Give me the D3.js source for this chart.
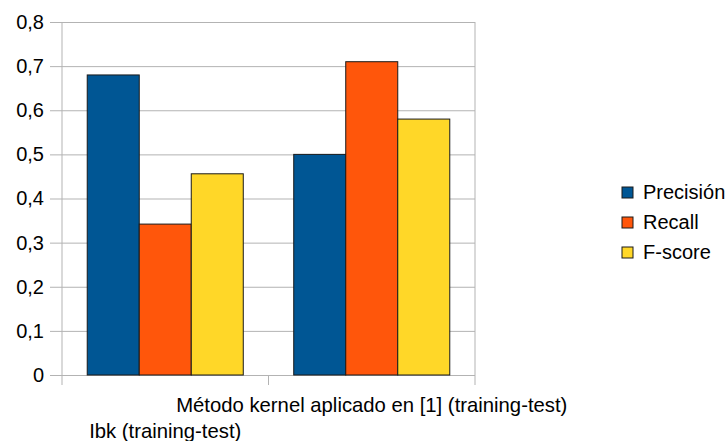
<!DOCTYPE html>
<html>
<head>
<meta charset="utf-8">
<script src="https://cdn.jsdelivr.net/npm/d3@7"></script>
<style>
  body { margin: 0; background: #fff; }
  svg text { font-family: "Liberation Sans", Arial, sans-serif; fill: #000; }
</style>
</head>
<body>
<svg id="chart" width="728" height="441"></svg>
<script>
// data
const categories = ["Ibk (training-test)", "Método kernel aplicado en [1] (training-test)"];
const series = ["Precisión", "Recall", "F-score"];
const precision = [0.68, 0.50];
const recall = [0.342, 0.71];
const fscore = [0.456, 0.58];
const yTicks = [0, 0.1, 0.2, 0.3, 0.4, 0.5, 0.6, 0.7, 0.8];

const colors = ["#005694", "#ff560b", "#ffd728"];
const values = [precision, recall, fscore];

const margin = {top: 22, left: 62, right: 253, bottom: 66};
const width = 728 - margin.left - margin.right,
    height = 441 - margin.top - margin.bottom;

const svg = d3.select("#chart")
    .append("g")
    .attr("transform", "translate(" + margin.left + "," + margin.top + ")");

var x0 = d3.scaleBand().domain(categories).range([0, width]);
var x1 = d3.scaleBand().domain(series).range([0, x0.bandwidth()]).paddingOuter(0.485);
var y = d3.scaleLinear().domain([0, 0.8]).range([height, 0]);

const fmt = d => d3.format(".1f")(d).replace(".", ",");

// grid + y axis
svg.append("g")
    .attr("class", "y-axis")
    .call(d3.axisLeft(y)
        .tickValues(yTicks)
        .tickSize(width + 12)
        .tickSizeOuter(0)
        .tickPadding(6)
        .tickFormat(d => d === 0 ? "0" : fmt(d)))
    .attr("transform", "translate(" + width + ",0)")
    .call(g => g.select(".domain").remove())
    .call(g => g.selectAll("line").attr("stroke", "#b3b3b3"))
    .call(g => g.selectAll("text").attr("font-size", 20).attr("font-family", "Liberation Sans, Arial, sans-serif"));

// axis frame lines and category ticks
svg.append("line")
    .attr("x1", 0).attr("x2", 0)
    .attr("y1", 0).attr("y2", height + 10)
    .attr("stroke", "#b3b3b3");
svg.append("line")
    .attr("x1", width).attr("x2", width)
    .attr("y1", 0).attr("y2", height + 10)
    .attr("stroke", "#b3b3b3");
svg.append("line")
    .attr("x1", x0.bandwidth()).attr("x2", x0.bandwidth())
    .attr("y1", height).attr("y2", height + 10)
    .attr("stroke", "#b3b3b3");

// bars
var group = svg.selectAll("g.group")
    .data(categories)
    .enter()
    .append("g")
    .attr("class", "group")
    .attr("transform", d => "translate(" + x0(d) + ",0)");

group.selectAll("rect")
    .data((d, i) => series.map((s, j) => ({s: s, v: values[j][i], c: colors[j]})))
    .enter()
    .append("rect")
    .attr("x", d => x1(d.s))
    .attr("width", x1.bandwidth())
    .attr("y", d => y(d.v))
    .attr("height", d => height - y(d.v))
    .attr("fill", d => d.c)
    .attr("stroke", "#1a1a1a")
    .attr("stroke-width", 1);

// category labels, staggered
svg.selectAll("text.cat")
    .data(categories)
    .enter()
    .append("text")
    .attr("class", "cat")
    .attr("x", d => x0(d) + x0.bandwidth() / 2)
    .attr("y", (d, i) => i === 0 ? height + 63 : height + 37)
    .attr("text-anchor", "middle")
    .attr("font-size", 20.3)
    .text(d => d);

// legend
const legend = d3.select("#chart").append("g")
    .attr("transform", "translate(622,187)");

legend.selectAll("rect")
    .data(series)
    .enter()
    .append("rect")
    .attr("x", 0)
    .attr("y", (d, i) => i * 30)
    .attr("width", 11)
    .attr("height", 11)
    .attr("fill", (d, i) => colors[i])
    .attr("stroke", "#1a1a1a");

legend.selectAll("text")
    .data(series)
    .enter()
    .append("text")
    .attr("x", 21)
    .attr("y", (d, i) => i * 30 + 12)
    .attr("font-size", 20)
    .text(d => d);
</script>
</body>
</html>
